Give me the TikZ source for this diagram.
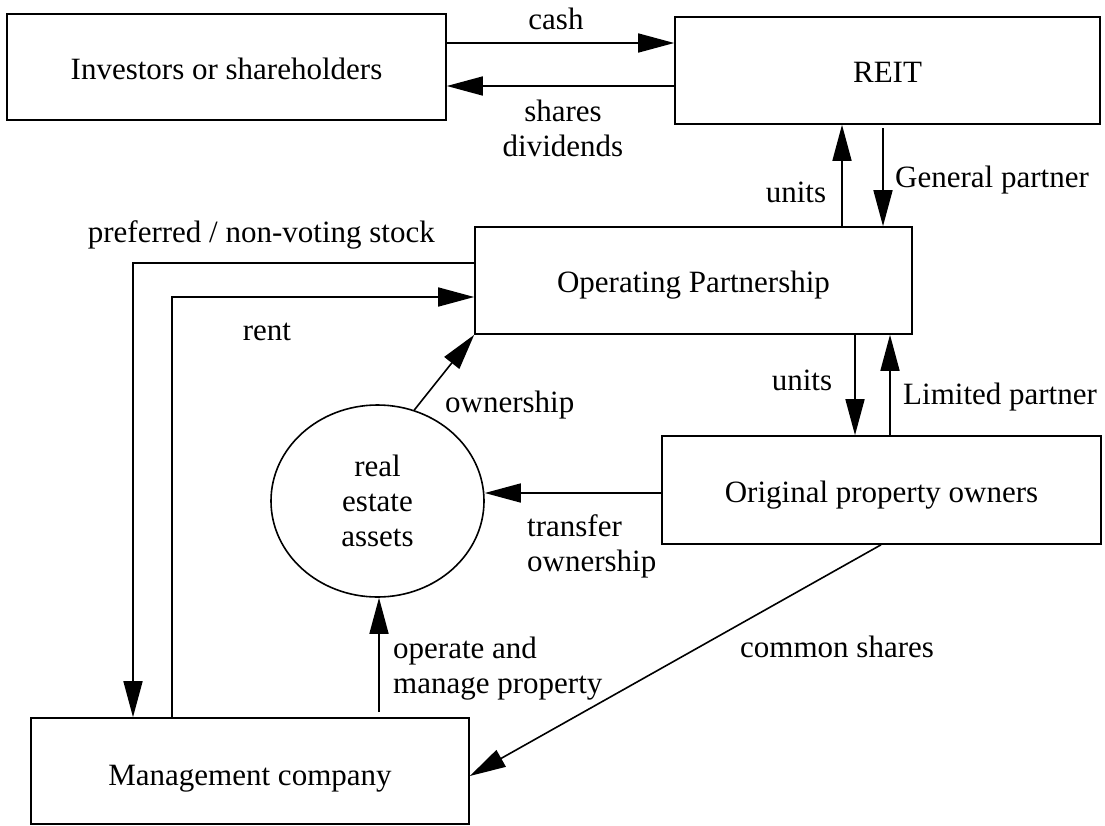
\documentclass[tikz,border=0pt]{standalone}
\usepackage{fontspec}
\setmainfont{Liberation Serif}
\usetikzlibrary{arrows.meta,shapes.geometric}
\begin{document}
\begin{tikzpicture}[x=1pt,y=-1pt,
  every node/.style={font=\fontsize{31}{35}\selectfont},
  box/.style={draw,line width=1.6pt,rectangle,inner sep=0pt,text depth=0pt},
  arr/.style={line width=1.6pt,-{Triangle[length=36pt,width=19pt]}},
  lbl/.style={inner sep=0pt}]
\useasboundingbox (0,0) rectangle (1105,825);

% entities
\node[box,minimum width=439pt,minimum height=106pt,text height=24pt] (inv)  at (226.5,67)   {Investors or shareholders};
\node[box,minimum width=425pt,minimum height=107pt,text height=23pt] (reit) at (887.5,70.5) {REIT};
\node[box,minimum width=437pt,minimum height=107pt,text height=23pt] (op)   at (693.5,280.5) {Operating Partnership};
\node[box,minimum width=439pt,minimum height=108pt,text height=24pt] (orig) at (881.5,490)  {Original property owners};
\node[box,minimum width=438pt,minimum height=106pt,text height=28pt] (mgmt) at (250,771)    {Management company};
\node[draw,ellipse,line width=1.6pt,inner sep=0pt,align=center,
      minimum width=213pt,minimum height=192pt] (assets) at (377.5,501) {real\\estate\\assets};

% flows between the parties
\draw[arr] (inv.east |- 0,43) -- (reit.west |- 0,43);
\draw[arr] (reit.west |- 0,86) -- (inv.east |- 0,86);
\draw[arr] (op.north -| 842,0) -- (reit.south -| 842,0);
\coordinate (gp) at (883,128);
\draw[arr] (gp) -- (gp |- op.north);
\draw[arr] (op.west |- 0,263) -| (mgmt.north -| 133,0);
\draw[arr] (mgmt.north -| 172,0) |- (op.west |- 0,297);
\draw[arr] (assets.68) -- (op.south west);
\draw[arr] (op.south -| 855,0) -- (orig.north -| 855,0);
\draw[arr] (orig.north -| 890,0) -- (op.south -| 890,0);
\draw[arr] (orig.west |- 0,493) -- (assets.east |- 0,493);
\coordinate (om) at (379,712);
\draw[arr] (om) -- (om |- assets.south);
\draw[arr] (orig.south -| 881,0) -- (mgmt.east |- 0,776);

% flow labels
\node[lbl,anchor=base] (lcash) at (556,29) {cash};
\node[lbl,anchor=north,align=center] (lshares) at (563,100) {shares\\dividends};
\node[lbl,anchor=base] (lunitsup) at (796,202) {units};
\node[lbl,anchor=base west] (lgp) at (895,187) {General partner};
\node[lbl,anchor=base east] (lpref) at (435,242) {preferred / non-voting stock};
\node[lbl,anchor=base] (lrent) at (267,340) {rent};
\node[lbl,anchor=base west] (lown) at (445,412) {ownership};
\node[lbl,anchor=north west,align=left] (ltransfer) at (527,514) {transfer\\ownership};
\node[lbl,anchor=north west,align=left] (loperate) at (393,637) {operate and\\manage property};
\node[lbl,anchor=base west] (lcommon) at (740,657) {common shares};
\node[lbl,anchor=base] (lunitsdown) at (802,390) {units};
\node[lbl,anchor=base west] (llp) at (903,404) {Limited partner};
\end{tikzpicture}
\end{document}
